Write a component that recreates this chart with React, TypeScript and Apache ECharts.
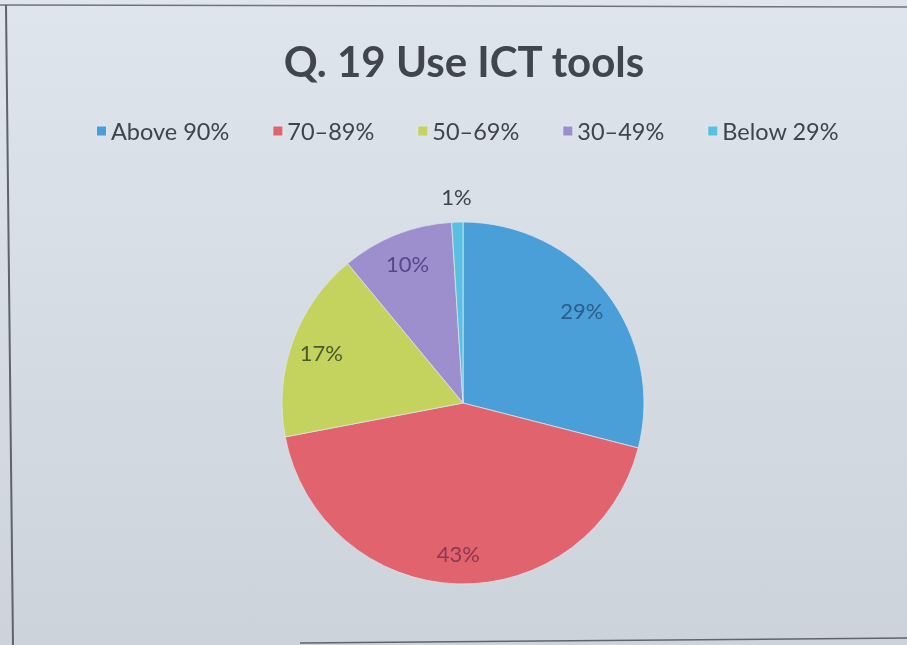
import React, { useEffect, useRef } from "react";
import * as echarts from "echarts";

const title = "Q. 19 Use ICT tools";
const categories = ["Above 90%", "70–89%", "50–69%", "30–49%", "Below 29%"];
const values = [29, 43, 17, 10, 1];
const sliceColors = ["#4a9fd8", "#e1636e", "#c3d35e", "#9d8fcd", "#58c0e0"];
const labelColors = ["#2d5d8a", "#8a3a50", "#4a5a28", "#54488a", "#3c434c"];

export default function App() {
  const ref = useRef<HTMLDivElement>(null);
  useEffect(() => {
    if (!ref.current) return;
    const chart = echarts.init(ref.current, undefined, { renderer: "svg" });
    const cx = 463;
    const cy = 403;
    const R = 181;
    const font = "Lato, 'Open Sans', sans-serif";
    const mainData = categories.map((n, i) => ({
      name: n,
      value: values[i],
      itemStyle: { color: sliceColors[i] },
    }));
    const innerData = categories.map((n, i) => ({
      name: n,
      value: values[i],
      itemStyle: { color: "rgba(0,0,0,0)" },
      label: { show: values[i] >= 5, color: labelColors[i] },
    }));
    const outerData = categories.map((n, i) => ({
      name: n,
      value: values[i],
      itemStyle: { color: "rgba(0,0,0,0)" },
      label: { show: values[i] < 5, color: labelColors[i] },
    }));
    chart.setOption({
      animation: false,
      graphic: [
        {
          type: "rect",
          z: -100,
          silent: true,
          shape: { x: 0, y: 0, width: 907, height: 645 },
          style: {
            fill: new echarts.graphic.LinearGradient(0, 0, 0, 1, [
              { offset: 0, color: "#dfe5ec" },
              { offset: 1, color: "#ccd3db" },
            ]),
          },
        },
        {
          type: "line",
          silent: true,
          shape: { x1: 0, y1: 5, x2: 907, y2: 7 },
          style: { stroke: "#6f747c", lineWidth: 1.5 },
        },
        {
          type: "line",
          silent: true,
          shape: { x1: 6, y1: 5, x2: 13, y2: 645 },
          style: { stroke: "#5f646c", lineWidth: 2 },
        },
        {
          type: "line",
          silent: true,
          shape: { x1: 300, y1: 643, x2: 907, y2: 638 },
          style: { stroke: "#60656d", lineWidth: 1.5 },
        },
      ],
      title: {
        text: title,
        left: 459,
        textAlign: "center",
        top: 35,
        textStyle: {
          fontFamily: font,
          fontWeight: "bold",
          fontSize: 42,
          color: "#40464e",
        },
      },
      legend: {
        data: categories.map((n, i) => ({ name: n, itemStyle: { color: sliceColors[i] } })),
        left: 90,
        top: 114,
        icon: "rect",
        itemWidth: 11,
        itemHeight: 11,
        itemGap: 42,
        textStyle: { fontFamily: font, fontSize: 23.5, color: "#3e444c", padding: [0, 0, 0, -1] },
        selectedMode: false,
      },
      series: [
        {
          type: "pie",
          center: [cx, cy],
          radius: R,
          startAngle: 90,
          clockwise: true,
          avoidLabelOverlap: false,
          label: { show: false },
          labelLine: { show: false },
          itemStyle: { borderColor: "#dde3ea", borderWidth: 0.8 },
          emphasis: { disabled: true },
          data: mainData,
        },
        {
          type: "pie",
          center: [cx, cy],
          radius: [114, R],
          startAngle: 90,
          clockwise: true,
          silent: true,
          avoidLabelOverlap: false,
          legendHoverLink: false,
          label: {
            position: "inside",
            formatter: "{c}%",
            fontFamily: font,
            fontSize: 22,
          },
          labelLine: { show: false },
          emphasis: { disabled: true },
          data: innerData,
        },
        {
          type: "pie",
          center: [cx, cy],
          radius: [R, 226],
          startAngle: 90,
          clockwise: true,
          silent: true,
          avoidLabelOverlap: false,
          legendHoverLink: false,
          label: {
            position: "inside",
            formatter: "{c}%",
            fontFamily: font,
            fontSize: 22,
          },
          labelLine: { show: false },
          emphasis: { disabled: true },
          data: outerData,
        },
      ],
    });
    return () => chart.dispose();
  }, []);
  return (
    <div
      ref={ref}
      style={{ position: "fixed", left: 0, top: 0, width: 907, height: 645 }}
    />
  );
}
